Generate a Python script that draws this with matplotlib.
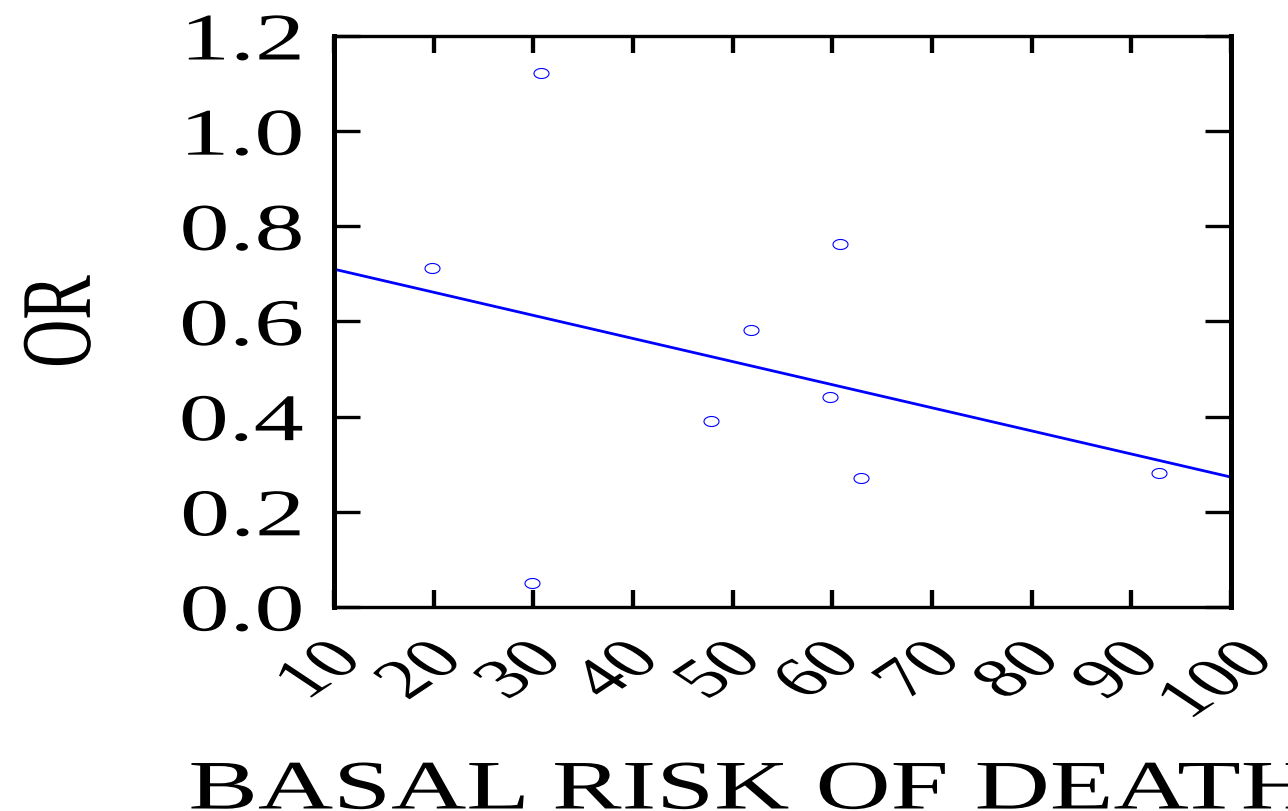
import numpy as np
import matplotlib
matplotlib.use("Agg")
import matplotlib.pyplot as plt
from matplotlib.path import Path
from matplotlib.patheffects import AbstractPathEffect
from matplotlib.transforms import Affine2D

# ---- data ----
risk = [19.8, 30.8, 29.9, 47.8, 51.8, 59.8, 60.8, 62.9, 92.8]
odds_ratio = [0.712, 1.122, 0.050, 0.391, 0.582, 0.441, 0.763, 0.271, 0.282]
fit_x = [10, 100]
fit_y = [0.710, 0.273]
x_ticks = [10, 20, 30, 40, 50, 60, 70, 80, 90, 100]
x_tick_labels = ["10", "20", "30", "40", "50", "60", "70", "80", "90", "100"]
y_ticks = [0.0, 0.2, 0.4, 0.6, 0.8, 1.0, 1.2]
y_tick_labels = ["0.0", "0.2", "0.4", "0.6", "0.8", "1.0", "1.2"]
x_label = "BASAL RISK OF DEATH"
y_label = "OR"

SX = 1.5  # horizontal stretch of the reference rendering


class HStretch(AbstractPathEffect):
    """Stretch a text path horizontally (display space) about an anchor."""
    def __init__(self, sx=SX, anchor=0.5, dx=0.0, dy=0.0):
        super().__init__()
        self.sx, self.anchor, self.dx, self.dy = sx, anchor, dx, dy

    def draw_path(self, renderer, gc, tpath, affine, rgbFace=None):
        verts = affine.transform(tpath.vertices)
        if len(verts):
            x0, x1 = verts[:, 0].min(), verts[:, 0].max()
            ax_ = x0 + self.anchor * (x1 - x0)
        else:
            ax_ = 0.0
        t = affine + Affine2D().translate(-ax_, 0).scale(self.sx, 1.0).translate(ax_ + self.dx, self.dy)
        renderer.draw_path(gc, tpath, t, rgbFace)


plt.rcParams['font.family'] = ['Liberation Serif', 'DejaVu Serif']

W, H = 1288, 811
fig = plt.figure(figsize=(W / 100, H / 100), dpi=100)
L, R, T, B = 334, 1231, 36, 607
ax = fig.add_axes([L / W, (H - B) / H, (R - L) / W, (B - T) / H])

# ellipse marker (wider than tall, like the reference)
theta = np.linspace(0, 2 * np.pi, 64)
ell = Path(np.column_stack([np.cos(theta), 0.667 * np.sin(theta)]), closed=True)

ax.plot(fit_x, fit_y, color='#0000FF', lw=2.0, solid_capstyle='butt', zorder=2)
ax.plot(risk, odds_ratio, linestyle='none', marker=ell, markersize=10.8,
        markerfacecolor='none', markeredgecolor='#0000FF', markeredgewidth=0.8,
        zorder=3, clip_on=False)

ax.set_xlim(10, 100)
ax.set_ylim(0, 1.2)

ax.set_xticks(x_ticks, labels=x_tick_labels)
ax.set_yticks(y_ticks, labels=y_tick_labels)

ax.tick_params(axis='x', which='major', direction='in', top=True, bottom=True,
               length=12.2, width=3.1, color='black', labelsize=40, pad=19,
               labelrotation=45)
ax.tick_params(axis='y', which='major', direction='in', left=True, right=True,
               length=18.7, width=2.4, color='black', labelsize=48, pad=22.3)

for lbl in ax.get_xticklabels():
    lbl.set_horizontalalignment('center')
    lbl.set_path_effects([HStretch(anchor=0.5, dx=-13)])
for lbl in ax.get_yticklabels():
    lbl.set_path_effects([HStretch(anchor=1.0)])

for side in ['left', 'right']:
    ax.spines[side].set_linewidth(3.6)
for side in ['top', 'bottom']:
    ax.spines[side].set_linewidth(2.4)

# axis labels
ax.set_xlabel(x_label, fontsize=50, path_effects=[HStretch(anchor=0.5)])
ax.xaxis.set_label_coords((752 - L) / (R - L), (B - 760) / (B - T))
ax.set_ylabel(y_label, fontsize=48, path_effects=[HStretch(anchor=0.5)])
ax.yaxis.set_label_coords((93 - L) / (R - L), 0.5)

fig.savefig("out.png", dpi=100)
